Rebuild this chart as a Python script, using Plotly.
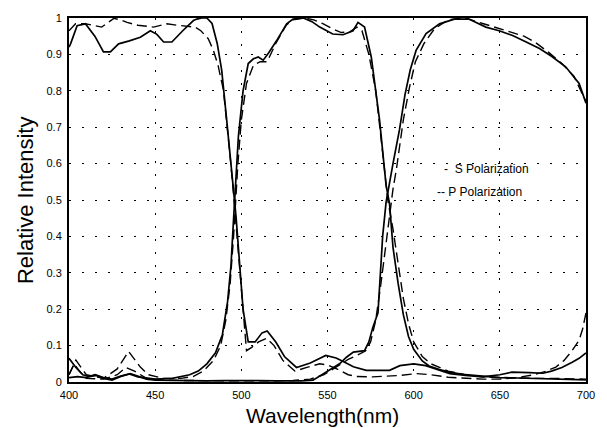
import plotly.graph_objects as go

# ---------------- data ----------------
# Blue band, S polarization (solid)
blue_s_x = [400, 400.9, 404.7, 409.5, 415, 420, 424, 428.8, 435, 441.4, 447.2, 451, 454.9, 459.7, 466, 472.2, 474.2, 477, 480, 483, 486, 488.6, 491.5, 493.5, 495.4, 497, 499, 501, 504, 508, 512, 515, 520, 525, 532, 540, 549, 555, 560, 565, 572.5, 586, 592, 600, 607, 614, 621, 630, 640, 650, 657, 667, 675, 680, 686, 692, 696, 700]
blue_s_y = [0.92, 0.929, 0.979, 0.984, 0.95, 0.907, 0.907, 0.929, 0.937, 0.947, 0.965, 0.955, 0.934, 0.934, 0.965, 0.993, 0.997, 1.0, 1.0, 0.985, 0.93, 0.857, 0.72, 0.63, 0.53, 0.45, 0.31, 0.2, 0.11, 0.11, 0.135, 0.14, 0.11, 0.07, 0.04, 0.052, 0.073, 0.066, 0.054, 0.042, 0.032, 0.032, 0.045, 0.05, 0.045, 0.035, 0.023, 0.018, 0.014, 0.02, 0.027, 0.026, 0.024, 0.03, 0.04, 0.054, 0.065, 0.08]

# Blue band, P polarization (dashed)
blue_p_x = [400, 403.8, 409.5, 419, 426, 430, 433.7, 440, 449, 456.8, 463, 470.3, 473.2, 476.5, 480.8, 483.8, 486.5, 489.6, 491.5, 493.5, 495.4, 498.3, 500.5, 503, 506, 510, 514.7, 519, 524, 531, 538, 545.5, 550, 556, 562, 567, 576, 586, 592, 601.5, 610, 620, 630, 640, 650, 660, 670, 677, 682.5, 687, 691.3, 694, 696, 698, 700]
blue_p_y = [0.965, 0.984, 0.984, 0.975, 0.999, 0.995, 0.988, 0.98, 0.975, 0.984, 0.98, 0.975, 0.975, 0.965, 0.943, 0.911, 0.87, 0.802, 0.72, 0.62, 0.52, 0.36, 0.22, 0.086, 0.095, 0.11, 0.12, 0.1, 0.06, 0.03, 0.04, 0.05, 0.047, 0.035, 0.02, 0.015, 0.014, 0.016, 0.018, 0.023, 0.02, 0.013, 0.01, 0.008, 0.008, 0.012, 0.02, 0.03, 0.041, 0.058, 0.082, 0.1, 0.115, 0.145, 0.19]

# Green band, S polarization (solid)
green_s_x = [400, 405, 410, 415, 420, 425, 430, 435, 440, 450, 460, 470, 475, 480, 485, 489, 492, 494, 495.4, 498.3, 501, 504, 507, 509.8, 512.7, 516, 520.5, 526.3, 530, 536, 541, 545.5, 553, 559, 564.8, 567.7, 571.5, 575.4, 580.2, 584, 586, 588, 591, 594, 597, 600, 605, 609, 615, 620.7, 630, 640, 650, 660, 670, 680, 690, 700]
green_s_y = [0.012, 0.015, 0.012, 0.02, 0.012, 0.008, 0.016, 0.022, 0.014, 0.008, 0.01, 0.02, 0.03, 0.05, 0.08, 0.13, 0.22, 0.32, 0.44, 0.675, 0.8, 0.875, 0.888, 0.893, 0.884, 0.905, 0.938, 0.984, 0.997, 1.0, 0.99, 0.975, 0.956, 0.954, 0.965, 0.988, 0.975, 0.893, 0.72, 0.54, 0.49, 0.37, 0.27, 0.185, 0.125, 0.09, 0.058, 0.044, 0.034, 0.027, 0.02, 0.015, 0.012, 0.011, 0.01, 0.008, 0.007, 0.006]

# Green band, P polarization (dashed)
green_p_x = [400, 404, 410, 420, 428, 434.6, 441.4, 446, 455, 465, 472, 478, 484, 488, 491, 493.5, 495.5, 498, 500, 503, 507, 511, 515, 520, 526, 530, 537, 542, 547, 553, 558, 563, 567, 570, 574, 578, 582, 585, 588, 591, 594, 597, 600, 605, 610, 620, 630, 640, 650, 660, 670, 680, 690, 700]
green_p_y = [0.02, 0.06, 0.02, 0.01, 0.036, 0.084, 0.041, 0.02, 0.01, 0.01, 0.015, 0.03, 0.06, 0.1, 0.17, 0.27, 0.4, 0.6, 0.72, 0.82, 0.87, 0.88, 0.88, 0.93, 0.98, 0.995, 1.0, 0.995, 0.985, 0.97, 0.96, 0.962, 0.975, 0.965, 0.9, 0.8, 0.63, 0.5, 0.42, 0.32, 0.23, 0.16, 0.11, 0.07, 0.05, 0.03, 0.02, 0.014, 0.012, 0.012, 0.01, 0.01, 0.008, 0.008]

# Red band, S polarization (solid)
red_s_x = [400, 404, 408, 412, 416, 420, 425, 430, 435.6, 440, 445, 450, 460, 470, 480, 490, 500, 510, 520, 528, 535, 541.6, 545, 550, 557, 561, 565, 571.5, 574, 576.3, 579.3, 582, 584, 588, 591.8, 595, 598, 601.4, 607.2, 615, 623.6, 632, 641.9, 649.6, 657.4, 665, 673, 680, 688.2, 696, 700]
red_s_y = [0.065, 0.04, 0.02, 0.015, 0.018, 0.01, 0.005, 0.015, 0.023, 0.015, 0.008, 0.005, 0.004, 0.004, 0.003, 0.004, 0.005, 0.004, 0.003, 0.002, 0.003, 0.005, 0.015, 0.03, 0.05, 0.068, 0.082, 0.086, 0.11, 0.15, 0.19, 0.4, 0.494, 0.6, 0.694, 0.79, 0.857, 0.911, 0.957, 0.984, 0.997, 0.997, 0.975, 0.965, 0.952, 0.935, 0.916, 0.895, 0.866, 0.82, 0.766]

# Red band, P polarization (dashed)
red_p_x = [400, 403, 406, 410, 420, 428, 433, 438, 445, 455, 470, 490, 510, 530, 540, 548, 555, 562, 568.7, 572, 575, 578, 581, 584, 586, 588, 590, 594, 597.6, 601, 606, 612, 620, 630, 640, 650, 658, 664, 670, 678, 686, 693, 700]
red_p_y = [0.02, 0.05, 0.03, 0.01, 0.008, 0.02, 0.04, 0.03, 0.01, 0.005, 0.004, 0.003, 0.003, 0.004, 0.008, 0.02, 0.04, 0.062, 0.077, 0.085, 0.11, 0.17, 0.27, 0.38, 0.46, 0.53, 0.585, 0.72, 0.81, 0.88, 0.93, 0.97, 0.995, 1.0, 0.985, 0.97, 0.957, 0.95, 0.935, 0.907, 0.875, 0.84, 0.77]

x_ticks = [400, 450, 500, 550, 600, 650, 700]
y_ticks = [0, 0.1, 0.2, 0.3, 0.4, 0.5, 0.6, 0.7, 0.8, 0.9, 1]
y_tick_text = ["0", "0.1", "0.2", "0.3", "0.4", "0.5", "0.6", "0.7", "0.8", "0.9", "1"]

x_title = "Wavelength(nm)"
y_title = "Relative Intensity"
legend_s = "-  S Polarization"
legend_p = "-- P Polarization"

# ---------------- figure ----------------
FONT = "Liberation Sans, Arial, sans-serif"
solid = dict(color="black", width=1.7)
dashed = dict(color="black", width=1.4, dash="10px,5px")

fig = go.Figure()
series = [
    (blue_s_x, blue_s_y, solid),
    (blue_p_x, blue_p_y, dashed),
    (green_s_x, green_s_y, solid),
    (green_p_x, green_p_y, dashed),
    (red_s_x, red_s_y, solid),
    (red_p_x, red_p_y, dashed),
]
for xs, ys, ln in series:
    fig.add_trace(go.Scatter(x=xs, y=ys, mode="lines", line=ln,
                             showlegend=False, hoverinfo="skip"))

fig.update_layout(
    width=607, height=428,
    margin=dict(l=69, r=20, t=14, b=46),
    paper_bgcolor="white", plot_bgcolor="white",
    font=dict(family=FONT, color="black", size=11),
    showlegend=False,
)
fig.update_xaxes(
    range=[400, 700], tickvals=x_ticks, ticks="", ticklabelstandoff=2,
    showgrid=True, gridcolor="black", gridwidth=1.3, griddash="2px,11px",
    showline=True, linecolor="black", linewidth=2, mirror=True,
    zeroline=False, tickfont=dict(size=11, family=FONT),
)
fig.update_yaxes(
    range=[0, 1], tickvals=y_ticks, ticktext=y_tick_text, ticks="",
    ticklabelstandoff=3,
    showgrid=True, gridcolor="black", gridwidth=1.3, griddash="2px,11px",
    showline=True, linecolor="black", linewidth=2, mirror=True,
    zeroline=False, tickfont=dict(size=11, family=FONT),
)

fig.add_annotation(text=y_title, xref="paper", yref="paper",
                   x=-0.085, y=0.5, xanchor="center", yanchor="middle",
                   textangle=-90, showarrow=False,
                   font=dict(size=22, family=FONT, color="black"))
fig.add_annotation(text=x_title, xref="paper", yref="paper",
                   x=0.49, y=-0.092, xanchor="center", yanchor="middle",
                   showarrow=False,
                   font=dict(size=21, family=FONT, color="black"))
fig.add_annotation(text=legend_s, x=616.5, y=0.584, xanchor="left",
                   yanchor="middle", showarrow=False,
                   font=dict(size=12, family=FONT, color="black"))
fig.add_annotation(text=legend_p, x=612.5, y=0.521, xanchor="left",
                   yanchor="middle", showarrow=False,
                   font=dict(size=12, family=FONT, color="black"))

fig.write_html("out.html")
